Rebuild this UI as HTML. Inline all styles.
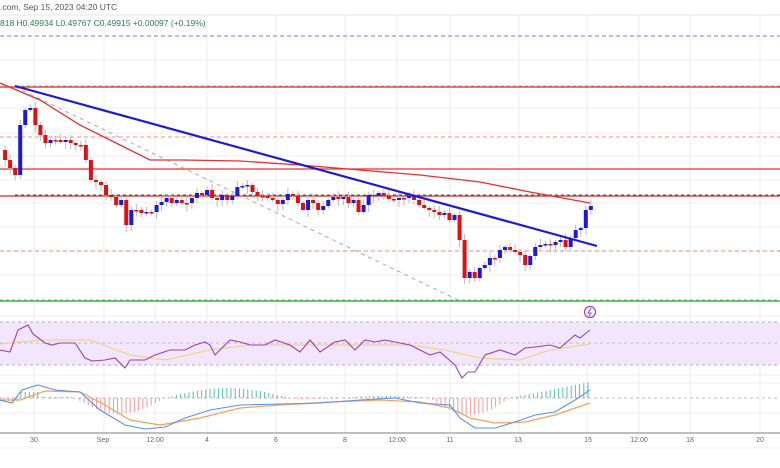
<!DOCTYPE html>
<html><head><meta charset="utf-8"><style>
html,body{margin:0;padding:0;background:#fff;}
svg{display:block;font-family:"Liberation Sans",sans-serif;}
</style></head><body>
<svg id="s" width="780" height="468" viewBox="0 0 780 468" xmlns="http://www.w3.org/2000/svg">
<rect width="780" height="468" fill="#fff"/>
<g id="grid" stroke="#ececec" stroke-width="1"></g>
<line x1="0" y1="15" x2="780" y2="15" stroke="#e6e6e6"/>
<text x="0" y="10" font-size="8.5" fill="#555">.com, Sep 15, 2023 04:20 UTC</text>
<text x="0" y="26" font-size="8.5" fill="#2e7d4f">818  H0.49934  L0.49767  C0.49915  +0.00097 (+0.19%)</text>
<rect x="0" y="322" width="780" height="43" fill="#f1e6fb"/>
<line x1="0" y1="322" x2="780" y2="322" stroke="#b9a6cc" stroke-dasharray="3,3"/>
<line x1="0" y1="343" x2="780" y2="343" stroke="#c8b6d8" stroke-dasharray="3,3"/>
<line x1="0" y1="365" x2="780" y2="365" stroke="#b9a6cc" stroke-dasharray="3,3"/>
<line x1="0" y1="398" x2="780" y2="398" stroke="#bbb" stroke-dasharray="3,3"/>
<line x1="0" y1="36" x2="780" y2="36" stroke="#c080e0" stroke-dasharray="4,3" stroke-width="1.2"/>
<line x1="0" y1="87" x2="780" y2="87" stroke="#e02020" stroke-width="1.3"/>
<line x1="15" y1="86" x2="780" y2="86" stroke="#9ab" stroke-dasharray="3,3"/>
<line x1="0" y1="137" x2="780" y2="137" stroke="#f09090" stroke-dasharray="4,3"/>
<line x1="0" y1="169" x2="780" y2="169" stroke="#e83030" stroke-width="1.3"/>
<line x1="0" y1="196" x2="780" y2="196" stroke="#e02020" stroke-width="1.3"/>
<line x1="15" y1="195" x2="780" y2="195" stroke="#555" stroke-dasharray="3,3"/>
<line x1="0" y1="251" x2="780" y2="251" stroke="#e08888" stroke-dasharray="4,3"/>
<line x1="0" y1="301" x2="780" y2="301" stroke="#20a020" stroke-width="1.3"/>
<line x1="0" y1="300" x2="780" y2="300" stroke="#6c6" stroke-dasharray="3,3"/>
<line x1="15" y1="87" x2="458" y2="300" stroke="#aaa" stroke-dasharray="4,4"/>
<g id="candles"></g>
<polyline fill="none" stroke="#e83030" stroke-width="1.3" points="0,83 40,100 80,125 120,145 150,160 182,160 240,161 300,165 360,170 420,175 480,182 530,192 590,203"/>
<line x1="15" y1="86" x2="597" y2="246" stroke="#1a1ad8" stroke-width="2.2"/>
<circle cx="590" cy="312" r="5.5" fill="none" stroke="#a040c0" stroke-width="1.2"/>
<path d="M591,308 L588,313 L591,313 L589,316" fill="none" stroke="#a040c0" stroke-width="1"/>
<polyline fill="none" stroke="#f0d070" stroke-width="1" points="0,344 40,340 90,340 130,355 165,360 210,350 250,345 300,345 350,345 410,345 445,350 480,358 520,360 550,350 590,344"/>
<polyline fill="none" stroke="#9a40b8" stroke-width="1.1" points="0,350 10,352 18,330 28,325 33,334 45,343 52,345 60,343 75,343 85,358 92,361 105,360 115,358 125,368 130,360 145,360 155,355 170,350 185,350 195,345 205,342 210,345 215,355 230,340 240,342 250,345 265,345 275,340 290,345 300,352 310,340 320,352 335,342 345,340 355,350 365,340 375,342 385,340 395,342 410,345 420,350 430,355 440,352 455,365 462,378 468,372 475,372 485,355 500,350 515,355 525,348 535,347 550,345 560,348 575,335 580,338 590,330"/>
<g id="hist"></g>
<polyline fill="none" stroke="#f4a060" stroke-width="1.2" points="0,400 20,400 45,391 80,392 105,405 130,420 160,425 200,418 240,408 280,405 330,402 380,400 420,402 450,408 470,418 495,423 525,422 555,415 590,403"/>
<polyline fill="none" stroke="#5b8ff0" stroke-width="1.1" points="0,400 12,403 22,390 38,385 55,390 80,392 100,410 125,425 145,429 165,427 185,418 210,410 240,405 280,404 320,403 360,400 395,398 420,403 450,405 460,418 475,428 495,428 515,422 535,415 555,412 575,400 590,390"/>
<line x1="0" y1="433" x2="780" y2="433" stroke="#999" stroke-width="1.2"/>
<line x1="0" y1="448" x2="780" y2="448" stroke="#eee"/>
<g id="xl" font-size="7" fill="#666" text-anchor="middle"></g>
</svg>
<script>
(function(){
var NS="http://www.w3.org/2000/svg";
function el(p,t,a){var e=document.createElementNS(NS,t);for(var k in a)e.setAttribute(k,a[k]);p.appendChild(e);return e;}
var g=document.getElementById('grid');
[34,104,155,207,276,345,397,450,519,587,639,690,760].forEach(function(x){el(g,'line',{x1:x,y1:15,x2:x,y2:433});});
[60,108,133,156,180,203,227,251,275,316,375,383,413].forEach(function(y){el(g,'line',{x1:0,y1:y,x2:780,y2:y});});
var lab=[[34,'30'],[103,'Sep'],[155,'12:00'],[207,'4'],[276,'6'],[345,'8'],[397,'12:00'],[450,'11'],[518,'13'],[588,'15'],[639,'12:00'],[690,'18'],[760,'20']];
var xl=document.getElementById('xl');
lab.forEach(function(l){var t=el(xl,'text',{x:l[0],y:442});t.textContent=l[1];});
var c=[150,160,168,175,125,110,108,125,135,143,140,140,142,140,143,145,145,160,180,182,185,195,197,205,200,225,210,210,213,212,212,205,202,198,203,200,203,203,198,193,195,190,198,200,195,200,196,187,186,185,192,196,196,198,200,204,200,194,196,203,210,200,203,210,206,200,197,199,197,203,200,212,205,195,196,193,196,199,200,198,198,196,200,205,208,210,212,215,213,220,215,240,278,272,278,268,265,258,258,250,247,250,252,255,265,256,247,245,244,245,242,240,247,238,230,228,210,206];
var cg=document.getElementById('candles');
var step=5.05;
for(var i=1;i<c.length;i++){
 var xx=i*step-2,o=c[i-1],cl=c[i];
 var up=cl<o;var col=up?'#1a1ad8':'#e01010';
 var t0=Math.min(o,cl),b0=Math.max(o,cl);if(b0-t0<1.5)b0=t0+1.5;
 var hi=t0-2-((i*7)%5),lo=b0+2+((i*11)%6);
 el(cg,'line',{x1:xx+2,y1:hi,x2:xx+2,y2:lo,stroke:'#bbb','stroke-width':1});
 el(cg,'rect',{x:xx,y:t0,width:4,height:b0-t0,fill:col});
}
var h=document.getElementById('hist');
for(var x=0;x<592;x+=4.2){
 var v;
 if(x<18)v=3;else if(x<40)v=-6;else if(x<75)v=-1;
 else if(x<165)v=Math.sin((x-75)/90*Math.PI)*16;
 else if(x<290)v=-Math.sin((x-165)/125*Math.PI)*10;
 else if(x<340)v=1;else if(x<430)v=-2*Math.sin((x-340)/90*Math.PI);
 else if(x<510)v=Math.sin((x-430)/80*Math.PI)*17;
 else v=-Math.min(16,(x-510)/5);
 var col=v>0?'#f08080':'#30b0a0';
 el(h,'line',{x1:x,y1:398,x2:x,y2:398+v,stroke:col,'stroke-width':1,opacity:0.8});
}
})();
</script>
</body></html>
